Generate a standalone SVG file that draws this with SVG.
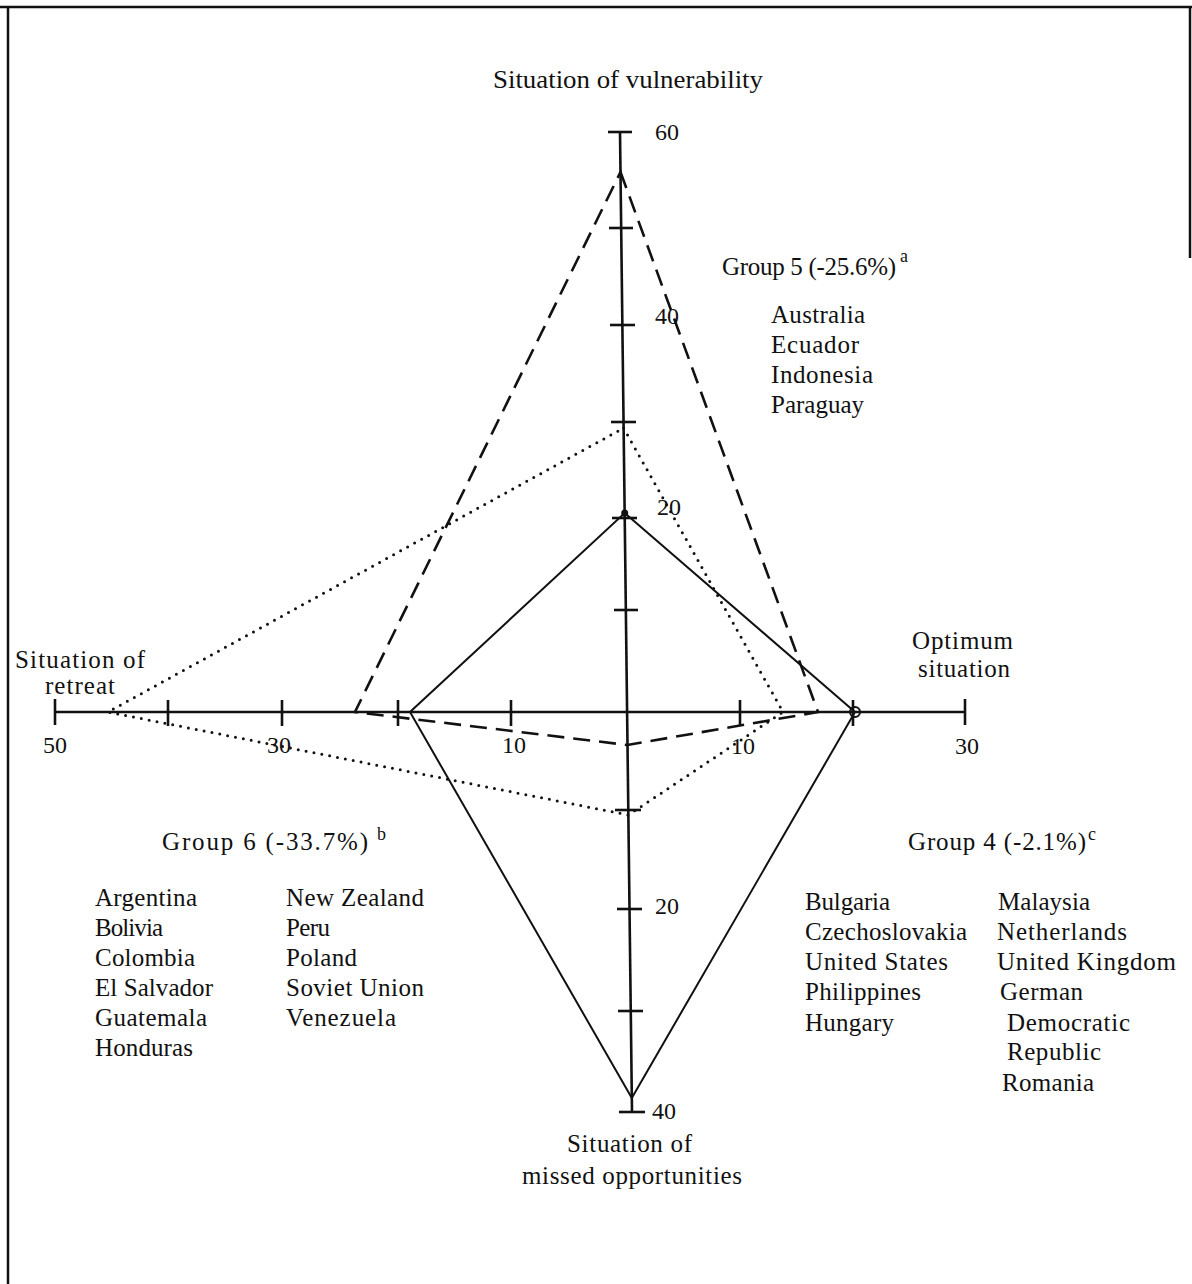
<svg xmlns="http://www.w3.org/2000/svg" width="1192" height="1284" viewBox="0 0 1192 1284">
  <style>
    text { font-family: "Liberation Serif", "Times New Roman", serif; font-size: 25px; fill: #111; }
    .num { font-size: 24px; }
    .sup { font-size: 18px; }
    .frame { stroke: #111; stroke-width: 2.5; fill: none; }
    .axis { stroke: #111; stroke-width: 2.6; fill: none; }
    .tick { stroke: #111; stroke-width: 2.6; }
    .solid { stroke: #111; stroke-width: 2; fill: none; stroke-linejoin: miter; }
    .dashed { stroke: #111; stroke-width: 2.6; fill: none; stroke-dasharray: 17 9; }
    .dotted { stroke: #111; stroke-width: 3; fill: none; stroke-dasharray: 0 8; stroke-linecap: round; }
  </style>

  <rect width="1192" height="1284" fill="#fff"/>

  <!-- page frame -->
  <g id="frame">
    <line class="frame" x1="0" y1="7" x2="1192" y2="7"/>
    <line class="frame" x1="8" y1="6" x2="8" y2="1284"/>
    <line class="frame" x1="1190" y1="6" x2="1190" y2="258"/>
  </g>

  <!-- the two axes with their tick marks -->
  <g id="axes">
    <line class="axis" x1="55" y1="712" x2="965" y2="712"/>
    <line class="axis" x1="620" y1="132" x2="632" y2="1112"/>
    <g id="h-ticks">
      <line class="tick" x1="55" y1="699" x2="55" y2="725"/>
      <line class="tick" x1="168" y1="700" x2="168" y2="726"/>
      <line class="tick" x1="282" y1="700" x2="282" y2="726"/>
      <line class="tick" x1="398" y1="700" x2="398" y2="726"/>
      <line class="tick" x1="511" y1="700" x2="511" y2="726"/>
      <line class="tick" x1="740" y1="700" x2="740" y2="726"/>
      <line class="tick" x1="853" y1="700" x2="853" y2="726"/>
      <line class="tick" x1="965" y1="699" x2="965" y2="725"/>
    </g>
    <g id="v-ticks">
      <line class="tick" x1="608" y1="132" x2="632" y2="132"/>
      <line class="tick" x1="609" y1="228" x2="633" y2="228"/>
      <line class="tick" x1="610" y1="325" x2="635" y2="325"/>
      <line class="tick" x1="611" y1="422" x2="636" y2="422"/>
      <line class="tick" x1="612" y1="518" x2="637" y2="518"/>
      <line class="tick" x1="614" y1="610" x2="638" y2="610"/>
      <line class="tick" x1="615" y1="810" x2="641" y2="810"/>
      <line class="tick" x1="617" y1="909" x2="642" y2="909"/>
      <line class="tick" x1="618" y1="1011" x2="643" y2="1011"/>
      <line class="tick" x1="619" y1="1112" x2="645" y2="1112"/>
    </g>
  </g>

  <!-- group profiles -->
  <g id="connectors">
    <polygon id="group-4" class="solid" points="624.7,513 855,712 631.8,1098 410,712"/>
    <polygon id="group-5" class="dashed" points="620.5,172 818,712 627.5,745 355,712"/>
    <polygon id="group-6" class="dotted" points="623.6,428 783,712 628.4,815 108,712"/>
    <circle cx="624.7" cy="513" r="3.5" fill="#111"/>
    <circle cx="855" cy="712" r="5" fill="none" stroke="#111" stroke-width="2"/>
  </g>

  <!-- axis names -->
  <g id="axis-labels">
    <text x="493" y="88" textLength="270" lengthAdjust="spacingAndGlyphs">Situation of vulnerability</text>
    <text x="912" y="649" textLength="101" lengthAdjust="spacing">Optimum</text>
    <text x="918" y="677" textLength="92" lengthAdjust="spacing">situation</text>
    <text x="15" y="668" textLength="130" lengthAdjust="spacing">Situation of</text>
    <text x="45" y="694" textLength="70" lengthAdjust="spacing">retreat</text>
    <text x="567" y="1152" textLength="125" lengthAdjust="spacing">Situation of</text>
    <text x="522" y="1184" textLength="220" lengthAdjust="spacing">missed opportunities</text>
  </g>

  <!-- scale numbers -->
  <g id="scale-labels">
    <text class="num" x="655" y="140">60</text>
    <text class="num" x="655" y="324">40</text>
    <text class="num" x="657" y="515">20</text>
    <text class="num" x="655" y="914">20</text>
    <text class="num" x="652" y="1119">40</text>
    <text class="num" x="43" y="753">50</text>
    <text class="num" x="267" y="753">30</text>
    <text class="num" x="502" y="753">10</text>
    <text class="num" x="731" y="754">10</text>
    <text class="num" x="955" y="754">30</text>
  </g>

  <!-- group 5 legend -->
  <g id="legend-group-5">
    <text x="722" y="275" textLength="174" lengthAdjust="spacing">Group 5 (-25.6%)</text>
    <text class="sup" x="900" y="262">a</text>
    <text x="771" y="323" textLength="94" lengthAdjust="spacing">Australia</text>
    <text x="771" y="353" textLength="88" lengthAdjust="spacing">Ecuador</text>
    <text x="771" y="383" textLength="102" lengthAdjust="spacing">Indonesia</text>
    <text x="771" y="413" textLength="93" lengthAdjust="spacing">Paraguay</text>
  </g>

  <!-- group 6 legend -->
  <g id="legend-group-6">
    <text x="162" y="850" textLength="206" lengthAdjust="spacing">Group 6 (-33.7%)</text>
    <text class="sup" x="377" y="840">b</text>
    <text x="95" y="906" textLength="102" lengthAdjust="spacing">Argentina</text>
    <text x="95" y="936" textLength="68" lengthAdjust="spacing">Bolivia</text>
    <text x="95" y="966" textLength="100" lengthAdjust="spacing">Colombia</text>
    <text x="95" y="996" textLength="118" lengthAdjust="spacing">El Salvador</text>
    <text x="95" y="1026" textLength="112" lengthAdjust="spacing">Guatemala</text>
    <text x="95" y="1056" textLength="98" lengthAdjust="spacing">Honduras</text>
    <text x="286" y="906" textLength="138" lengthAdjust="spacing">New Zealand</text>
    <text x="286" y="936" textLength="44" lengthAdjust="spacing">Peru</text>
    <text x="286" y="966" textLength="71" lengthAdjust="spacing">Poland</text>
    <text x="286" y="996" textLength="138" lengthAdjust="spacing">Soviet Union</text>
    <text x="286" y="1026" textLength="110" lengthAdjust="spacing">Venezuela</text>
  </g>

  <!-- group 4 legend -->
  <g id="legend-group-4">
    <text x="908" y="850" textLength="178" lengthAdjust="spacing">Group 4 (-2.1%)</text>
    <text class="sup" x="1088" y="840">c</text>
    <text x="805" y="910" textLength="85" lengthAdjust="spacing">Bulgaria</text>
    <text x="805" y="940" textLength="162" lengthAdjust="spacing">Czechoslovakia</text>
    <text x="805" y="970" textLength="143" lengthAdjust="spacing">United States</text>
    <text x="805" y="1000" textLength="116" lengthAdjust="spacing">Philippines</text>
    <text x="805" y="1031" textLength="89" lengthAdjust="spacing">Hungary</text>
    <text x="998" y="910" textLength="92" lengthAdjust="spacing">Malaysia</text>
    <text x="997" y="940" textLength="130" lengthAdjust="spacing">Netherlands</text>
    <text x="997" y="970" textLength="179" lengthAdjust="spacing">United Kingdom</text>
    <text x="1000" y="1000" textLength="83" lengthAdjust="spacing">German</text>
    <text x="1007" y="1031" textLength="123" lengthAdjust="spacing">Democratic</text>
    <text x="1007" y="1060" textLength="94" lengthAdjust="spacing">Republic</text>
    <text x="1002" y="1091" textLength="92" lengthAdjust="spacing">Romania</text>
  </g>
</svg>
